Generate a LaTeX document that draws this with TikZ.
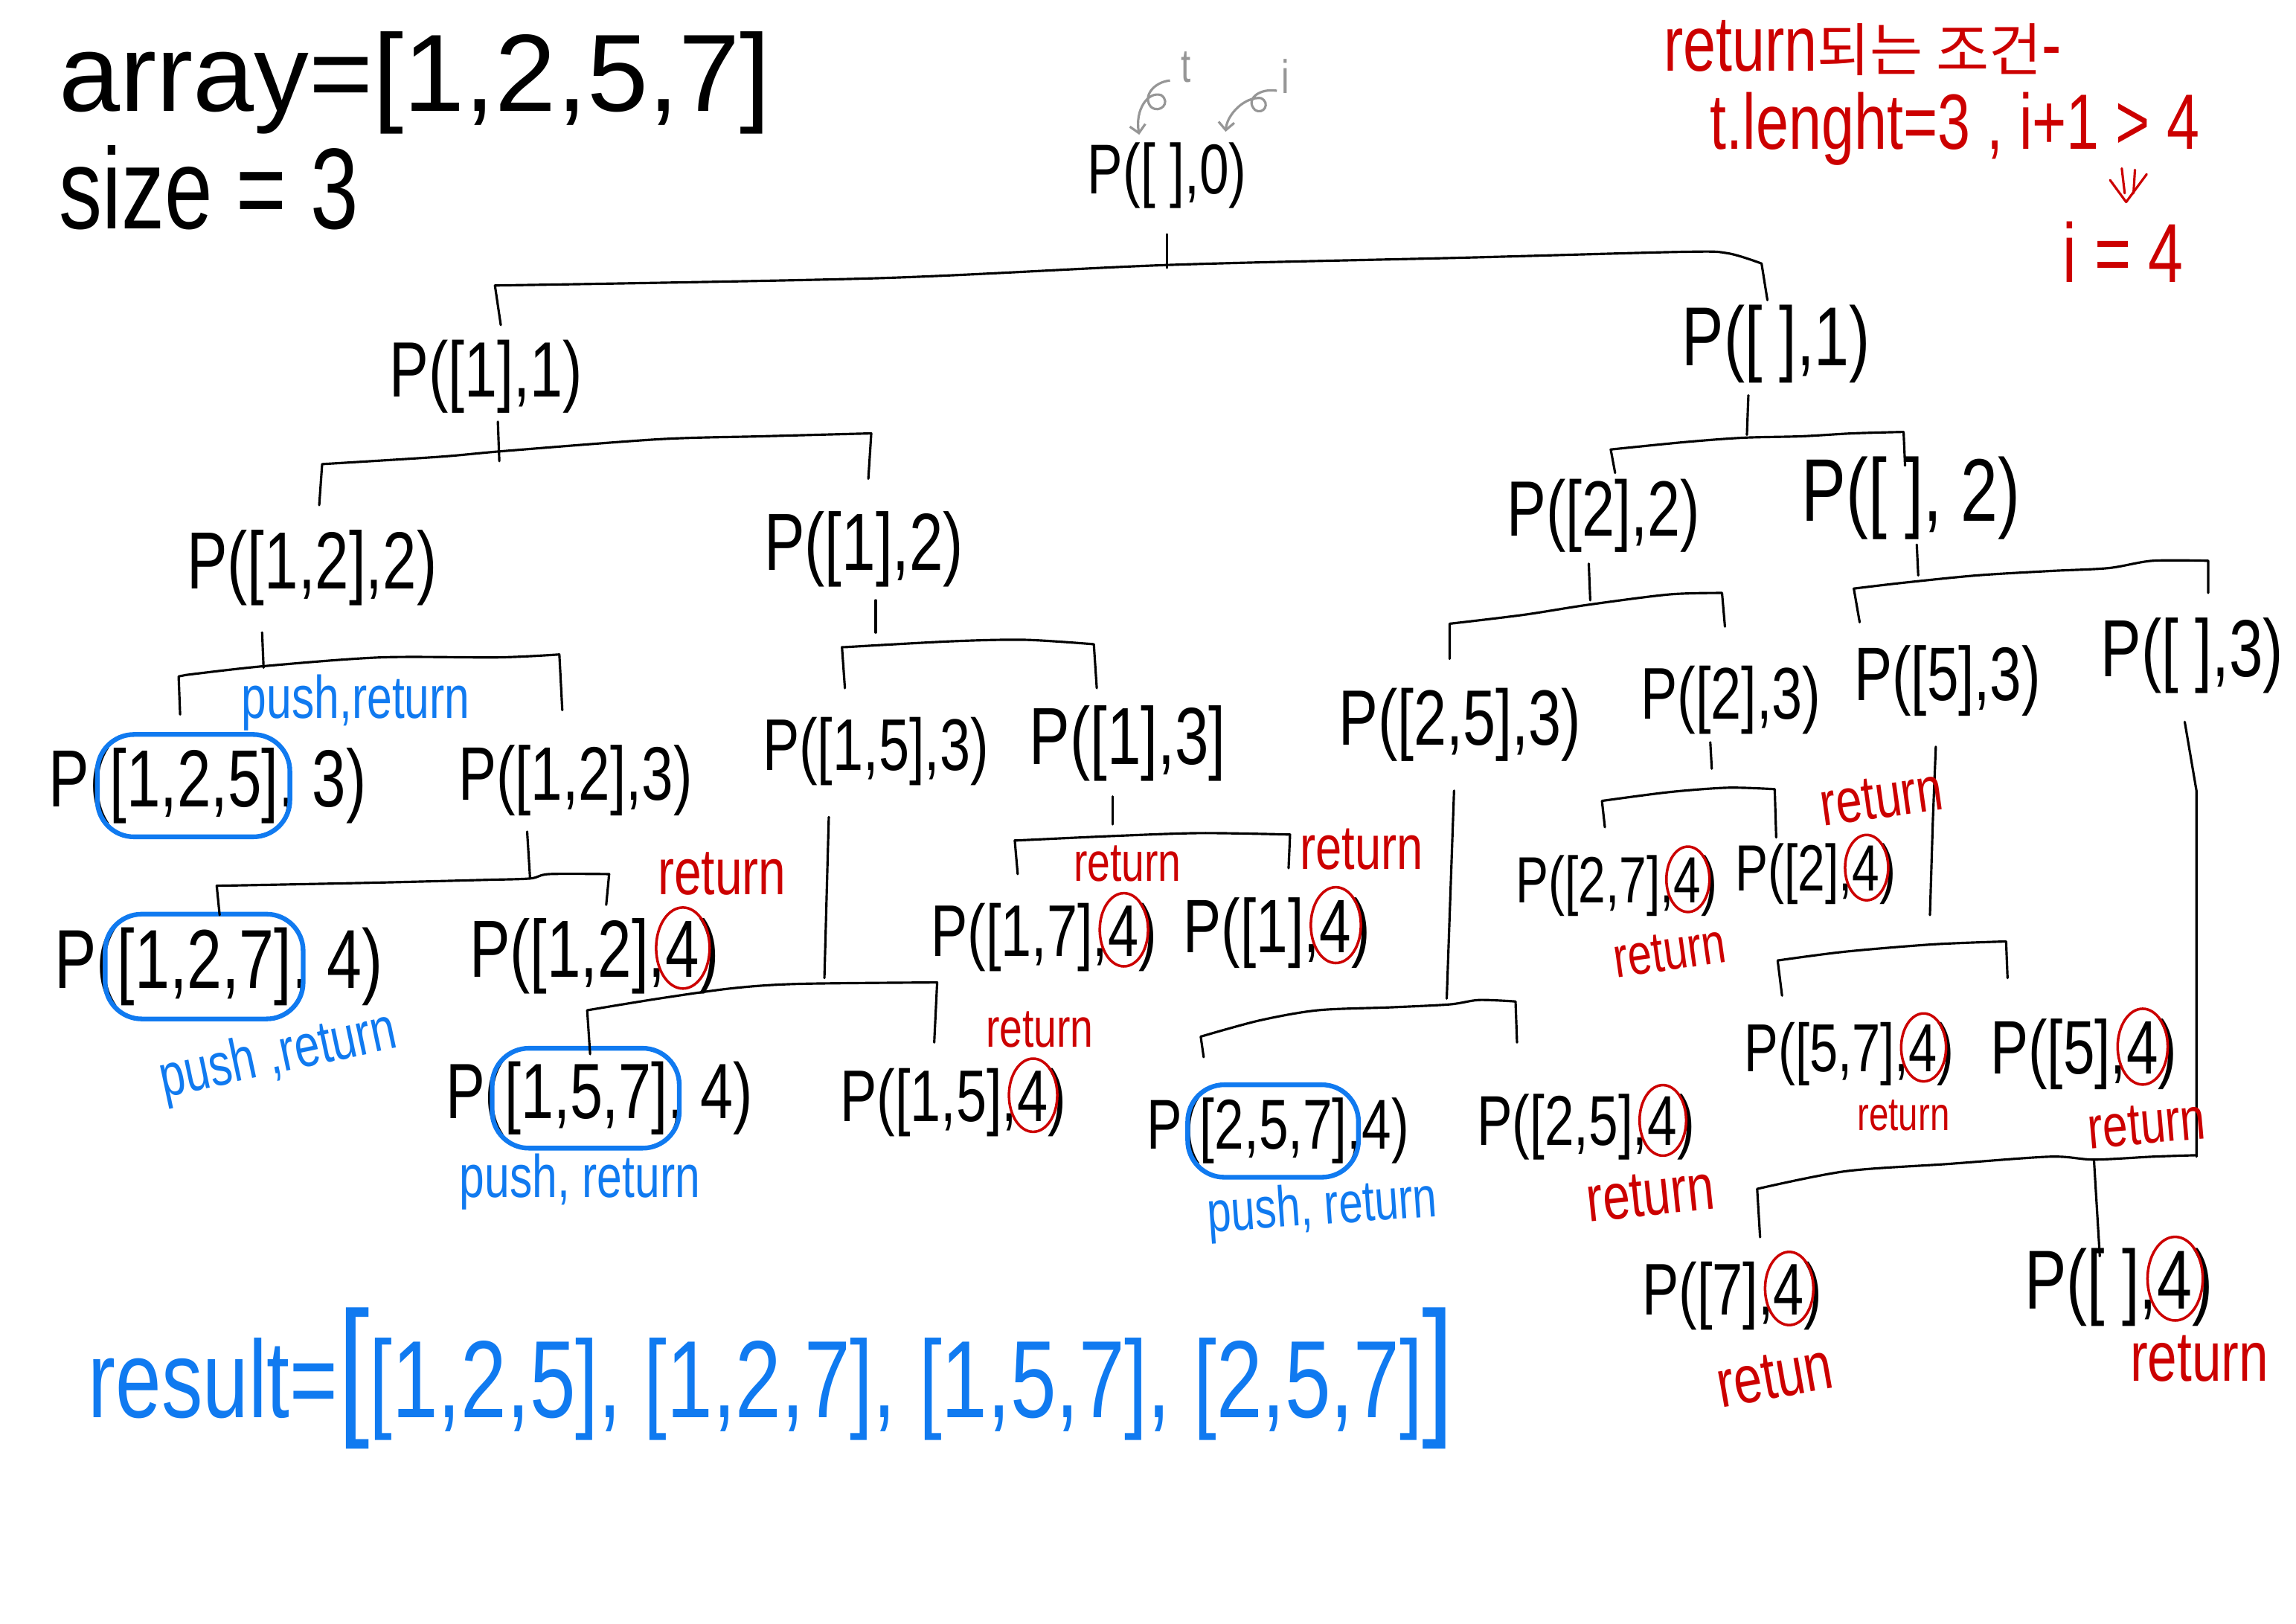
\documentclass[tikz,border=0pt]{standalone}
\usepackage{fontspec}
\setmainfont{Liberation Sans}
\newfontfamily\hand[FakeStretch=0.75]{Liberation Sans}
\newfontfamily\handn{Liberation Sans}
\newfontfamily\kr{Noto Sans CJK KR}
\usetikzlibrary{arrows.meta}
\definecolor{inkblue}{RGB}{16,122,240}
\definecolor{inkred}{RGB}{204,0,0}
\definecolor{inkgray}{RGB}{150,150,150}
\tikzset{
  lbl/.style={inner sep=0pt, font=\hand\fontsize{#1}{#1}\selectfont},
  lbl/.default=30,
  hdr/.style={inner sep=0pt, font=\handn\fontsize{#1}{#1}\selectfont},
  ink/.style={line width=0.9pt, line cap=round, line join=round},
  bring/.style={draw=inkblue, line width=1.8pt, rounded corners=14pt, inner sep=0pt},
  rring/.style={draw=inkred, line width=1pt},
  bnote/.style={inner sep=0pt, text=inkblue, font=\hand\fontsize{#1}{#1}\selectfont},
  rnote/.style={inner sep=0pt, text=inkred, font=\hand\fontsize{#1}{#1}\selectfont},
}
% label whose last digit (before the closing parenthesis) is ringed in red
\newcommand\redlbl[4]{%
  \node[lbl=#3] (#1) at #2 {#4};
  \draw[rring] ([xshift={-0.4585*#3pt}, yshift={0.358*#3pt}]#1.base east)
     ellipse [x radius={0.33*#3pt}, y radius={0.5*#3pt}];
}
% label whose list is ringed in blue: name, base-west point, size, text, offset (em), list width (em)
\newcommand\bluelbl[6]{%
  \node[lbl=#3, anchor=base west] (#1) at #2 {#4};
  \node[bring, minimum width={#6*0.75*#3pt+9pt}, minimum height={0.94*#3pt+10pt}]
     (#1c) at ([xshift={#5*0.75*#3pt}, yshift={0.26*#3pt}]#1.base west) {};
}
\begin{document}
\begin{tikzpicture}[x=0.01968cm, y=-0.01968cm]
\useasboundingbox (0,0) rectangle (1568,1109);
\fill[white] (0,0) rectangle (1568,1109);

% header, top left
\node[hdr=42, anchor=base west] (arr) at (40,76) {array=[1,2,5,7]};
\node[lbl=44, anchor=base west] (sz) at (40,156) {size = 3};

% header, top right (red)
\node[rnote=30] (k1) at (1272,33) {return{\kr\fontsize{22}{22}\selectfont 되는 조건}-};
\node[rnote=30] (k2) at (1335,88) {t.lenght=3 , i+1 > 4};
\draw[inkred, ink] (1449,115) -- (1451,132);
\draw[inkred, ink] (1458,116) -- (1457,132);
\draw[inkred, ink] (1441,123) -- (1452,138) -- (1466,119);
\node[rnote=32] (k3) at (1450,172) {i = 4};

% gray t / i annotations
\node[lbl=18, text=inkgray] (tlab) at (810,46) {t};
\node[lbl=18, text=inkgray] (ilab) at (878,52) {i};
\draw[inkgray, line width=0.9pt, -{Straight Barb[length=3pt]}]
  (799,55) .. controls (788,56) and (780,66) .. (786,73)
  .. controls (792,78) and (800,70) .. (793,65)
  .. controls (784,62) and (775,75) .. (778,92);
\draw[inkgray, line width=0.9pt, -{Straight Barb[length=3pt]}]
  (872,62) .. controls (860,60) and (850,68) .. (857,75)
  .. controls (863,79) and (868,70) .. (861,67)
  .. controls (850,66) and (838,78) .. (837,90);

% tree nodes
\node[lbl=27] (p0) at (797,120) {P([ ],0)};
\node[lbl=30] (p1) at (332,257) {P([1],1)};
\node[lbl=32] (p2) at (1213,235) {P([ ],1)};
\node[lbl=31] (p11) at (213,388) {P([1,2],2)};
\node[lbl=31] (p12) at (590,375) {P([1],2)};
\node[lbl=30] (p21) at (1095,352) {P([2],2)};
\node[lbl=34] (p22) at (1305,340) {P([ ], 2)};
\bluelbl{q1}{(33,551)}{31}{P([1,2,5], 3)}{2.39}{2.78}
\node[lbl=29] (p112) at (393,533) {P([1,2],3)};
\node[lbl=28] (p121) at (598,513) {P([1,5],3)};
\node[lbl=31] (p122) at (770,508) {P([1],3]};
\node[lbl=30] (p211) at (997,495) {P([2,5],3)};
\node[lbl=28] (p212) at (1182,478) {P([2],3)};
\node[lbl=29] (p221) at (1330,465) {P([5],3)};
\node[lbl=31] (p222) at (1497,448) {P([ ],3)};
\bluelbl{q2}{(37,675)}{32}{P([1,2,7], 4)}{2.39}{2.78}
\redlbl{q3}{(406,653)}{31}{P([1,2],4)}
\redlbl{q4}{(713,640)}{28}{P([1,7],4)}
\redlbl{q5}{(872,637)}{29}{P([1],4)}
\bluelbl{q6}{(304,764)}{30}{P([1,5,7], 4)}{2.39}{2.78}
\redlbl{q7}{(651,753)}{28}{P([1,5],4)}
\bluelbl{q8}{(783,785)}{27}{P([2,5,7],4)}{2.39}{2.78}
\redlbl{q9}{(1083,770)}{27}{P([2,5],4)}
\redlbl{q10}{(1104,605)}{25}{P([2,7],4)}
\redlbl{q11}{(1240,597)}{25}{P([2],4)}
\redlbl{q12}{(1263,720)}{26}{P([5,7],4)}
\redlbl{q13}{(1423,720)}{29}{P([5],4)}
\redlbl{q14}{(1183,885)}{28}{P([7],4)}
\redlbl{q15}{(1447,879)}{32}{P([ ],4)}

% brackets
\draw[ink] (797,160) -- (797,183);
\draw[ink] (342,222) -- (338,195) -- plot[smooth, tension=0.5] coordinates {(338,195) (600,190) (797,181) (1000,176) (1150,172) (1180,173) (1203,180)} -- (1207,205);

\draw[ink] (340,288) -- (341,315);
\draw[ink] (218,345) -- (220,317) -- plot[smooth, tension=0.5] coordinates {(220,317) (300,312) (345,308) (450,300) (520,298) (595,296)} -- (593,327);

\draw[ink] (1194,270) -- (1193,297);
\draw[ink] (1103,323) -- (1100,307) -- plot[smooth, tension=0.5] coordinates {(1100,307) (1150,302) (1190,299) (1230,298) (1265,296) (1300,295)} -- (1301,318);

\draw[ink] (179,432) -- (180,456);
\draw[ink] (123,488) -- (122,462) -- plot[smooth, tension=0.5] coordinates {(127,461) (180,455) (260,449) (340,449) (382,447)} -- (384,485);

\draw[ink] (598,410) -- (598,432);
\draw[ink] (577,470) -- (575,442) -- plot[smooth, tension=0.5] coordinates {(577,442) (650,438) (700,437) (747,440)} -- (749,470);

\draw[ink] (360,568) -- (362,600);
\draw[ink] (150,625) -- (148,605) -- plot[smooth, tension=0.5] coordinates {(148,605) (250,603) (330,601) (362,600) (375,597) (416,597)} -- (414,618);

\draw[ink] (566,558) -- (563,668);
\draw[ink] (403,720) -- (401,690) -- plot[smooth, tension=0.5] coordinates {(401,690) (450,682) (500,675) (545,672) (640,671)} -- (638,712);

\draw[ink] (760,544) -- (760,563);
\draw[ink] (695,597) -- (693,574) -- plot[smooth, tension=0.5] coordinates {(695,574) (760,571) (820,569) (881,570)} -- (880,593);

\draw[ink] (1085,385) -- (1086,410);
\draw[ink] (990,450) -- (990,426) -- plot[smooth, tension=0.5] coordinates {(990,426) (1040,420) (1085,413) (1140,406) (1176,405)} -- (1178,428);

\draw[ink] (1309,372) -- (1310,393);
\draw[ink] (1270,425) -- (1266,402) -- plot[smooth, tension=0.5] coordinates {(1266,402) (1300,398) (1350,393) (1400,390) (1440,388) (1470,383) (1508,383)} -- (1508,405);

\draw[ink] (993,540) -- (988,682);
\draw[ink] (822,722) -- (820,708) -- plot[smooth, tension=0.5] coordinates {(820,708) (860,697) (900,690) (950,688) (990,686) (1010,683) (1035,684)} -- (1036,712);

\draw[ink] (1168,507) -- (1169,525);
\draw[ink] (1096,565) -- (1094,547) -- plot[smooth, tension=0.5] coordinates {(1094,547) (1140,541) (1180,538) (1212,539)} -- (1213,572);

\draw[ink] (1322,510) -- (1320,560) -- (1318,625);
\draw[ink] (1217,680) -- (1214,656) -- plot[smooth, tension=0.5] coordinates {(1214,656) (1260,650) (1320,645) (1370,643)} -- (1371,668);

\draw[ink] (1492,493) -- (1500,540) -- (1500,790);
\draw[ink] (1202,845) -- (1200,812) -- plot[smooth, tension=0.5] coordinates {(1200,812) (1260,800) (1330,795) (1400,790) (1430,792) (1470,790) (1500,789)};
\draw[ink] (1430,792) -- (1434,858);

% blue notes
\node[bnote=23] (pr1) at (243,480) {push,return};
\node[bnote=23, rotate=12] (pr2) at (190,722) {push ,return};
\node[bnote=23] (pr3) at (396,807) {push, return};
\node[bnote=22, rotate=4] (pr4) at (903,826) {push, return};

% red notes
\node[rnote=25] (r1) at (493,597) {return};
\node[rnote=21] (r2) at (770,590) {return};
\node[rnote=24] (r3) at (930,580) {return};
\node[rnote=21] (r4) at (710,703) {return};
\node[rnote=25, rotate=6] (r5) at (1127,816) {return};
\node[rnote=22, rotate=8] (r6) at (1140,650) {return};
\node[rnote=24, rotate=8] (r7) at (1285,545) {return};
\node[rnote=18] (r8) at (1300,762) {return};
\node[rnote=23, rotate=5] (r9) at (1466,768) {return};
\node[rnote=26, rotate=10] (r10) at (1212,940) {retun};
\node[rnote=27] (r11) at (1502,928) {return};

% result
\node[bnote=42, anchor=base west] (res) at (60,968) {result={\fontsize{58}{58}\selectfont[}[1,2,5], [1,2,7], [1,5,7], [2,5,7]{\fontsize{58}{58}\selectfont]}};
\end{tikzpicture}
\end{document}
